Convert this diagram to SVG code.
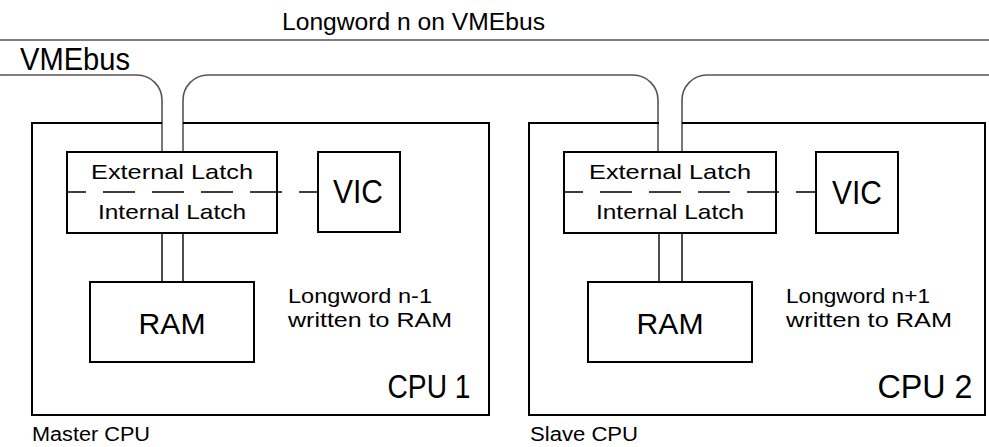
<svg xmlns="http://www.w3.org/2000/svg" width="989" height="447" viewBox="0 0 989 447">
<style>
text{font-family:"Liberation Sans",Arial,sans-serif;fill:#000}
.box{fill:none;stroke:#000;stroke-width:2}
.bus{fill:none;stroke:#555;stroke-width:1.6}
.wire{fill:none;stroke:#000;stroke-width:1.4}
.dash{fill:none;stroke:#000;stroke-width:1.6;stroke-dasharray:32 17;stroke-dashoffset:13}
.m{text-anchor:middle}
</style>
<rect width="989" height="447" fill="#fff"/>
<g id="connectors">
<line class="bus" x1="0" y1="40" x2="989" y2="40"/>
<path class="bus" d="M0,75 H137 A25,25 0 0 1 162,100 V152"/>
<path class="bus" d="M183,152 V100 A25,25 0 0 1 208,75 H633 A25,25 0 0 1 658,100 V152"/>
<path class="bus" d="M682,152 V100 A25,25 0 0 1 707,75 H989"/>
<line class="wire" x1="162" y1="233" x2="162" y2="282"/>
<line class="wire" x1="183" y1="233" x2="183" y2="282"/>
<line class="wire" x1="659" y1="233" x2="659" y2="282"/>
<line class="wire" x1="682" y1="233" x2="682" y2="282"/>
<line class="dash" x1="67" y1="192" x2="318" y2="192"/>
<line class="dash" x1="564" y1="192" x2="816" y2="192"/>
</g>
<g id="cpu1">
<path class="box" d="M162,123 H32 V415 H489 V123 H183"/>
<text x="429" y="398" class="m" font-size="33" textLength="83" lengthAdjust="spacingAndGlyphs">CPU 1</text>
</g>
<g id="cpu2">
<path class="box" d="M659,123 H529 V415 H985 V123 H682"/>
<text x="925" y="398" class="m" font-size="33" textLength="95" lengthAdjust="spacingAndGlyphs">CPU 2</text>
</g>
<g id="latch1">
<rect class="box" x="67" y="152" width="210" height="81"/>
<text x="172" y="179" class="m" font-size="21" textLength="162" lengthAdjust="spacingAndGlyphs">External Latch</text>
<text x="172" y="219" class="m" font-size="21" textLength="148" lengthAdjust="spacingAndGlyphs">Internal Latch</text>
</g>
<g id="latch2">
<rect class="box" x="564" y="152" width="212" height="81"/>
<text x="670" y="179" class="m" font-size="21" textLength="162" lengthAdjust="spacingAndGlyphs">External Latch</text>
<text x="670" y="219" class="m" font-size="21" textLength="148" lengthAdjust="spacingAndGlyphs">Internal Latch</text>
</g>
<g id="vic1">
<rect class="box" x="318" y="152" width="82" height="80"/>
<text x="358" y="203" class="m" font-size="34" textLength="50" lengthAdjust="spacingAndGlyphs">VIC</text>
</g>
<g id="vic2">
<rect class="box" x="816" y="152" width="82" height="81"/>
<text x="857" y="204" class="m" font-size="34" textLength="50" lengthAdjust="spacingAndGlyphs">VIC</text>
</g>
<g id="ram1">
<rect class="box" x="90" y="282" width="164" height="80"/>
<text x="172" y="334" class="m" font-size="30" textLength="67" lengthAdjust="spacingAndGlyphs">RAM</text>
</g>
<g id="ram2">
<rect class="box" x="588" y="282" width="164" height="80"/>
<text x="670" y="334" class="m" font-size="30" textLength="67" lengthAdjust="spacingAndGlyphs">RAM</text>
</g>
<g id="labels">
<text x="282" y="30" font-size="23" textLength="263" lengthAdjust="spacingAndGlyphs">Longword n on VMEbus</text>
<text x="20" y="70" font-size="31" textLength="110" lengthAdjust="spacingAndGlyphs">VMEbus</text>
<text x="288" y="303" font-size="21" textLength="144" lengthAdjust="spacingAndGlyphs">Longword n-1</text>
<text x="288" y="327" font-size="21" textLength="164" lengthAdjust="spacingAndGlyphs">written to RAM</text>
<text x="786" y="303" font-size="21" textLength="144" lengthAdjust="spacingAndGlyphs">Longword n+1</text>
<text x="786" y="327" font-size="21" textLength="166" lengthAdjust="spacingAndGlyphs">written to RAM</text>
<text x="32" y="441" font-size="20" textLength="118" lengthAdjust="spacingAndGlyphs">Master CPU</text>
<text x="530" y="441" font-size="20" textLength="108" lengthAdjust="spacingAndGlyphs">Slave CPU</text>
</g>
</svg>
